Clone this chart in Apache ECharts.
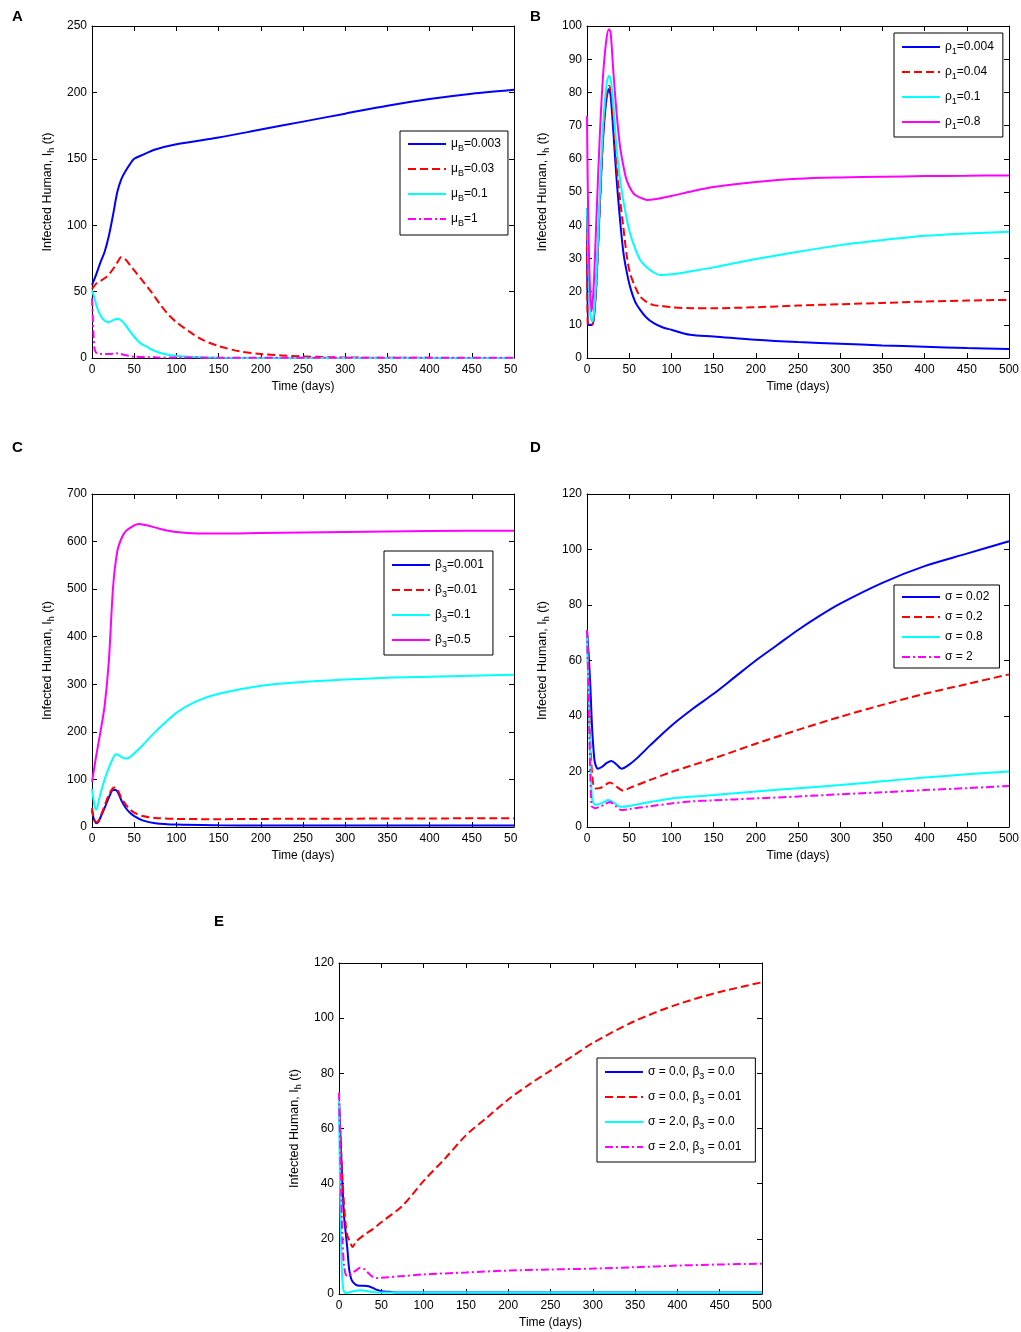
<!DOCTYPE html>
<html>
<head>
<meta charset="utf-8">
<title>Infected Human</title>
<script src="https://cdn.jsdelivr.net/npm/echarts@6/dist/echarts.min.js"></script>
<style>
  body { margin: 0; background: #fff; }
  .panel { position: absolute; overflow: hidden; }
</style>
</head>
<body>
<div id="pA" class="panel" style="left:0;top:0;width:517px;height:400px"></div>
<div id="pB" class="panel" style="left:517px;top:0;width:504px;height:400px"></div>
<div id="pC" class="panel" style="left:0;top:430px;width:517px;height:450px"></div>
<div id="pD" class="panel" style="left:517px;top:430px;width:504px;height:450px"></div>
<div id="pE" class="panel" style="left:200px;top:900px;width:821px;height:432px"></div>

<script>
// ---- Panel A : mu_B ----
var tA1 = [0, 5, 10, 15, 20, 25, 30, 35, 40, 45, 50, 60, 75, 100, 150, 200, 250, 300, 350, 400, 450, 500];
var yA1 = [55, 63, 72, 80, 92, 108, 125, 135, 141, 146, 150, 153, 157, 161, 166, 172, 178, 184, 190, 195, 199, 202];
var tA2 = [0, 5, 10, 15, 20, 25, 30, 35, 40, 45, 50, 60, 70, 80, 90, 100, 115, 130, 150, 175, 200, 250, 300, 400, 500];
var yA2 = [52, 56, 58, 60, 63, 67, 72, 76, 74, 70, 66, 58, 50, 41, 33, 27, 20, 14, 9, 5, 3, 1.2, 0.4, 0.1, 0];
var tA3 = [0, 3, 6, 10, 15, 20, 25, 30, 35, 40, 45, 50, 55, 60, 65, 70, 80, 90, 100, 120, 150, 200, 500];
var yA3 = [51, 45, 38, 32, 28, 27, 28.5, 29.5, 28, 24.5, 20, 16, 12.5, 10, 8.5, 6.5, 4, 2.5, 1.5, 0.7, 0.2, 0, 0];
var tA4 = [0, 1, 2, 3, 5, 10, 20, 30, 40, 50, 75, 100, 500];
var yA4 = [45, 30, 15, 7, 4, 3, 3, 3.5, 2, 1, 0.5, 0.3, 0.2];
var namesA = ['μB=0.003', 'μB=0.03', 'μB=0.1', 'μB=1'];
var labelsA = ['μ{s|B}=0.003', 'μ{s|B}=0.03', 'μ{s|B}=0.1', 'μ{s|B}=1'];

// ---- Panel B : rho_1 ----
var tB1 = [0, 1, 3, 6, 8, 11, 15, 19, 23, 26, 28, 31, 35, 39, 43, 47, 51, 57, 63, 70, 79, 90, 100, 122, 150, 200, 250, 300, 350, 400, 450, 500];
var yB1 = [45, 10, 10, 10, 12, 22, 45, 66, 78, 81, 79, 69, 54, 42, 32, 26, 21.5, 17, 14.5, 12.3, 10.5, 9.2, 8.5, 7, 6.5, 5.5, 4.8, 4.3, 3.8, 3.4, 3, 2.7];
var tB2 = [0, 1, 3, 6, 8, 11, 15, 19, 23, 26, 28, 31, 35, 39, 43, 47, 51, 57, 63, 70, 78, 87, 100, 125, 150, 200, 250, 300, 350, 400, 450, 500];
var yB2 = [45, 10, 10, 10, 12, 22, 45, 67, 79, 82, 81, 73, 58, 48, 39.5, 31, 25.5, 21.5, 18.5, 17, 16, 15.7, 15.3, 15, 15, 15.3, 15.8, 16.2, 16.6, 17, 17.3, 17.5];
var tB3 = [0, 2, 4, 6, 8, 11, 15, 19, 23, 26, 28, 31, 35, 39, 43, 47, 51, 57, 63, 70, 80, 87, 100, 125, 150, 200, 250, 300, 350, 400, 450, 500];
var yB3 = [45, 25, 13, 11, 13, 24, 48, 70, 82, 85, 84, 77, 63.5, 54, 47.5, 42, 37.5, 33, 29.5, 27.5, 25.6, 25, 25.2, 26.2, 27.3, 29.8, 32, 34, 35.5, 36.8, 37.5, 38];
var tB4 = [0, 1, 3, 5.5, 8, 11, 15, 19, 23, 26, 28, 31, 35, 39, 43, 47, 55, 63, 71, 80, 100, 122, 150, 200, 250, 300, 350, 400, 450, 500];
var yB4 = [73, 50, 25, 14, 22, 41, 66, 85, 96, 99, 98, 87, 74, 64, 58, 53.6, 49.6, 48.3, 47.6, 47.8, 48.8, 50.1, 51.5, 53, 54, 54.4, 54.6, 54.8, 54.9, 55];
var namesB = ['ρ1=0.004', 'ρ1=0.04', 'ρ1=0.1', 'ρ1=0.8'];
var labelsB = ['ρ{s|1}=0.004', 'ρ{s|1}=0.04', 'ρ{s|1}=0.1', 'ρ{s|1}=0.8'];

// ---- Panel C : beta_3 ----
var tC1 = [0, 2, 5, 8, 10, 15, 20, 25, 28, 32, 35, 40, 45, 50, 60, 75, 100, 150, 200, 500];
var yC1 = [35, 18, 8, 12, 20, 40, 62, 78, 78, 68, 55, 40, 30, 23, 14, 8, 5, 3.5, 3, 3];
var tC2 = [0, 2, 5, 8, 10, 15, 20, 25, 28, 32, 35, 40, 45, 50, 60, 75, 100, 150, 200, 300, 400, 500];
var yC2 = [40, 20, 10, 14, 22, 45, 68, 82, 83, 72, 60, 47, 37, 30, 23, 19, 17, 16.5, 17, 17.5, 18, 18.5];
var tC3 = [0, 3, 5, 8, 10, 15, 20, 25, 28, 31, 35, 40, 45, 50, 60, 75, 100, 125, 150, 200, 250, 300, 350, 400, 450, 500];
var yC3 = [80, 45, 36, 55, 70, 100, 125, 145, 153, 152, 147, 144, 147, 155, 172, 200, 240, 265, 280, 297, 305, 310, 314, 316, 318, 320];
var tC4 = [0, 5, 10, 15, 20, 25, 30, 35, 40, 50, 55, 60, 70, 80, 100, 125, 150, 200, 300, 400, 500];
var yC4 = [95, 150, 200, 255, 350, 505, 580, 607, 622, 634, 637, 636, 632, 627, 620, 617, 617, 618, 620, 622, 623];
var namesC = ['β3=0.001', 'β3=0.01', 'β3=0.1', 'β3=0.5'];
var labelsC = ['β{s|3}=0.001', 'β{s|3}=0.01', 'β{s|3}=0.1', 'β{s|3}=0.5'];

// ---- Panel D : sigma ----
var tD1 = [0, 2, 4, 6, 8.5, 10, 13, 18, 23, 29, 35, 41, 50, 60, 75, 100, 125, 150, 175, 200, 225, 250, 275, 300, 350, 400, 450, 500];
var yD1 = [71, 62, 50.6, 36, 25, 22.5, 21, 21.7, 23, 23.8, 22.5, 21, 22.5, 25, 29.5, 36.5, 42.5, 48, 54, 60, 65.5, 71, 76, 80.5, 88, 94, 98.5, 103];
var tD2 = [0, 2, 4, 6, 8, 10, 15, 20, 27, 35, 43, 50, 75, 100, 122, 150, 200, 250, 300, 350, 400, 450, 500];
var yD2 = [70, 50, 30, 19, 14.5, 13.9, 14, 14.8, 16, 14.5, 13.1, 14, 17, 19.8, 22, 24.7, 30, 35, 39.7, 44, 48, 51.5, 55];
var tD3 = [0, 2, 4, 6, 8, 10, 15, 20, 25, 32, 40, 50, 75, 100, 122, 150, 200, 250, 300, 350, 400, 450, 500];
var yD3 = [70, 45, 24, 10, 8.5, 8, 8.3, 9, 9.7, 8.7, 7.3, 7.6, 9, 10.3, 10.9, 11.5, 12.8, 14, 15.1, 16.5, 17.8, 19, 20];
var tD4 = [0, 1, 2, 3, 4, 5.5, 8, 10, 15, 20, 27, 34, 41, 50, 75, 100, 122, 150, 200, 250, 300, 350, 400, 450, 500];
var yD4 = [71, 60, 45, 30, 18, 7.5, 7, 6.8, 7.3, 8, 9, 7.5, 6.1, 6.5, 7.5, 8.5, 9.2, 9.6, 10.3, 11, 11.8, 12.5, 13.3, 14, 14.8];
var namesD = ['σ = 0.02', 'σ = 0.2', 'σ = 0.8', 'σ = 2'];
var labelsD = ['σ = 0.02', 'σ = 0.2', 'σ = 0.8', 'σ = 2'];

// ---- Panel E : sigma + beta_3 ----
var tE1 = [0, 2, 4, 6, 8, 10, 12, 15, 20, 25, 30, 35, 40, 45, 50, 60, 70, 100, 500];
var yE1 = [70, 55, 40, 28, 22, 16, 9, 5, 3.3, 3, 3, 2.8, 2.2, 1.5, 1, 0.8, 0.5, 0.5, 0.5];
var tE2 = [0, 2, 4, 6, 8, 10, 13, 16, 20, 30, 40, 50, 75, 100, 125, 150, 175, 200, 225, 250, 275, 300, 350, 400, 450, 500];
var yE2 = [70, 55, 42, 32, 25, 21, 19, 17, 19, 21.5, 23.5, 26, 32, 41, 49, 57.5, 64, 70.5, 76, 81, 86, 91, 99, 105, 109.5, 113];
var tE3 = [0, 1, 2, 3, 4, 5, 6, 8, 12, 20, 25, 30, 40, 50, 100, 500];
var yE3 = [70, 45, 25, 12, 5, 2, 0.8, 0.4, 0.6, 1.2, 1.4, 1.2, 0.7, 0.5, 0.5, 0.5];
var tE4 = [0, 2, 4, 6, 8, 10, 15, 20, 25, 30, 35, 40, 45, 50, 75, 100, 150, 200, 250, 300, 350, 400, 450, 500];
var yE4 = [73, 45, 20, 10, 7, 6.5, 7.5, 8.5, 9.5, 9, 7.5, 6.2, 5.8, 5.9, 6.5, 7.1, 7.8, 8.5, 8.9, 9.2, 9.7, 10.3, 10.7, 11];
var namesE = ['σ = 0.0, β3 = 0.0', 'σ = 0.0, β3 = 0.01', 'σ = 2.0, β3 = 0.0', 'σ = 2.0, β3 = 0.01'];
var labelsE = ['σ = 0.0, β{s|3} = 0.0', 'σ = 0.0, β{s|3} = 0.01', 'σ = 2.0, β{s|3} = 0.0', 'σ = 2.0, β{s|3} = 0.01'];

var FONT = '"Liberation Sans", Arial, sans-serif';
var COLORS = ['#0000ff', '#ff0000', '#00ffff', '#ff00ff'];
var DASH = [8, 4];
var DASHDOT = [8, 3, 2, 3];

function pairs(t, v) {
  return t.map(function (x, i) { return [x, v[i]]; });
}

var SUB = { fontSize: 9, fontFamily: FONT, color: '#000', verticalAlign: 'bottom', lineHeight: 10 };

function drawPanel(id, p) {
  var chart = echarts.init(document.getElementById(id));
  var tick = { show: true, inside: true, length: 5, lineStyle: { color: '#000', width: 1 } };
  var line = { show: true, onZero: false, lineStyle: { color: '#000', width: 1 } };
  var label = { color: '#000', fontSize: 12, fontFamily: FONT };

  var series = p.curves.map(function (c, i) {
    return {
      name: p.names[i],
      type: 'line',
      data: pairs(c[0], c[1]),
      symbol: 'none',
      showSymbol: false,
      smooth: 0.3,
      lineStyle: { color: COLORS[i], width: 2, type: p.dash[i] },
      itemStyle: { color: COLORS[i] }
    };
  });

  chart.setOption({
    animation: false,
    grid: { left: p.gl, top: p.gt, width: p.gw, height: p.gh, outerBoundsMode: 'none', containLabel: false },
    xAxis: [
      {
        type: 'value', min: 0, max: 500, interval: 50, position: 'bottom',
        axisLine: line, axisTick: tick, splitLine: { show: false },
        axisLabel: Object.assign({ margin: 6 }, label),
        name: 'Time (days)', nameLocation: 'middle', nameGap: 22,
        nameTextStyle: label
      },
      {
        type: 'value', min: 0, max: 500, interval: 50, position: 'top',
        axisLine: line, axisTick: tick, splitLine: { show: false }, axisLabel: { show: false }
      }
    ],
    yAxis: [
      {
        type: 'value', min: 0, max: p.ymax, interval: p.yint, position: 'left',
        axisLine: line, axisTick: tick, splitLine: { show: false },
        axisLabel: Object.assign({ margin: 5 }, label),
        name: 'Infected Human, I{s|h} (t)', nameLocation: 'middle', nameRotate: 90, nameGap: p.ygap,
        nameTextStyle: { color: '#000', fontSize: 12.5, fontFamily: FONT, lineHeight: 18, rich: { s: SUB } }
      },
      {
        type: 'value', min: 0, max: p.ymax, interval: p.yint, position: 'right',
        axisLine: line, axisTick: tick, splitLine: { show: false }, axisLabel: { show: false }
      }
    ],
    legend: {
      orient: 'vertical', left: p.lx, top: p.ly,
      itemWidth: 38, itemHeight: 14, itemGap: p.lgap,
      padding: p.lpad, borderColor: '#000', borderWidth: 1, backgroundColor: '#fff',
      data: p.names,
      // line-only keys: hide the marker the line series puts in the middle
      itemStyle: { opacity: 0 },
      textStyle: { color: '#000', fontSize: 12, fontFamily: FONT, lineHeight: 18, rich: { s: SUB } },
      formatter: function (n) { return p.labels[p.names.indexOf(n)]; }
    },
    graphic: [{
      type: 'text', left: p.kx, top: p.ky,
      style: { text: p.letter, fill: '#000', fontSize: 15, fontWeight: 'bold', fontFamily: FONT }
    }],
    series: series
  });
}

drawPanel('pA', {
  letter: 'A', kx: 12, ky: 9,
  gl: 92, gt: 26, gw: 422, gh: 332, ymax: 250, yint: 50, ygap: 29,
  lx: 400, ly: 131, lgap: 7, lpad: [4, 7, 7, 7],
  names: namesA, labels: labelsA, dash: ['solid', DASH, 'solid', DASHDOT],
  curves: [[tA1, yA1], [tA2, yA2], [tA3, yA3], [tA4, yA4]]
});
drawPanel('pB', {
  letter: 'B', kx: 13, ky: 9,
  gl: 70, gt: 26, gw: 422, gh: 332, ymax: 100, yint: 10, ygap: 29,
  lx: 377, ly: 33, lgap: 7, lpad: [5, 9, 6, 7],
  names: namesB, labels: labelsB, dash: ['solid', DASH, 'solid', 'solid'],
  curves: [[tB1, yB1], [tB2, yB2], [tB3, yB3], [tB4, yB4]]
});
drawPanel('pC', {
  letter: 'C', kx: 12, ky: 10,
  gl: 92, gt: 64, gw: 422, gh: 333, ymax: 700, yint: 100, ygap: 29,
  lx: 384, ly: 121, lgap: 7, lpad: [5, 9, 6, 7],
  names: namesC, labels: labelsC, dash: ['solid', DASH, 'solid', 'solid'],
  curves: [[tC1, yC1], [tC2, yC2], [tC3, yC3], [tC4, yC4]]
});
drawPanel('pD', {
  letter: 'D', kx: 13, ky: 10,
  gl: 70, gt: 64, gw: 422, gh: 333, ymax: 120, yint: 20, ygap: 29,
  lx: 377, ly: 155, lgap: 2, lpad: [3, 10, 2, 7],
  names: namesD, labels: labelsD, dash: ['solid', DASH, 'solid', DASHDOT],
  curves: [[tD1, yD1], [tD2, yD2], [tD3, yD3], [tD4, yD4]]
});
drawPanel('pE', {
  letter: 'E', kx: 14, ky: 14,
  gl: 139, gt: 63, gw: 423, gh: 331, ymax: 120, yint: 20, ygap: 29,
  lx: 397, ly: 158, lgap: 7, lpad: [5, 14, 6, 7],
  names: namesE, labels: labelsE, dash: ['solid', DASH, 'solid', DASHDOT],
  curves: [[tE1, yE1], [tE2, yE2], [tE3, yE3], [tE4, yE4]]
});
</script>
</body>
</html>
